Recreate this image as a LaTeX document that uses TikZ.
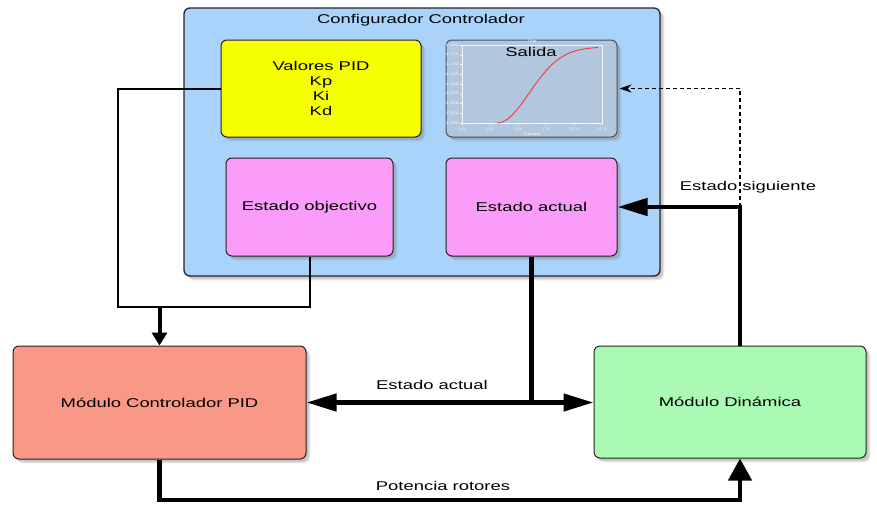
\documentclass[tikz,border=0pt]{standalone}
\usepackage{fontspec}
\setmainfont{Liberation Sans}
\usepackage{graphicx}
\usetikzlibrary{arrows.meta,shadows}

% wide lettering used throughout the figure
\newcommand\wtxt[1]{\scalebox{1.45}[1]{#1}}
\newcommand\tinytxt[1]{\scalebox{1.45}[1]{\fontsize{3.6}{4}\selectfont #1}}

\definecolor{cfgblue}{RGB}{169,211,251}
\definecolor{pidyellow}{RGB}{245,255,0}
\definecolor{statepink}{RGB}{250,156,250}
\definecolor{plotbg}{RGB}{178,198,222}
\definecolor{ctrlsalmon}{RGB}{250,152,136}
\definecolor{dyngreen}{RGB}{170,250,180}
\definecolor{edgegray}{RGB}{35,35,35}

\begin{document}
\begin{tikzpicture}[x=1pt,y=-1pt,
  font=\fontsize{12.7}{15}\selectfont,
  softshadow/.style={
    drop shadow={shadow xshift=4.5pt, shadow yshift=-4.5pt, opacity=.12},
    drop shadow={shadow xshift=3.5pt, shadow yshift=-3.5pt, opacity=.18},
    drop shadow={shadow xshift=2.5pt, shadow yshift=-2.5pt, opacity=.25}},
  box/.style={draw=edgegray, line width=1pt, rounded corners=6pt,
    softshadow, inner sep=0pt, align=center},
  thinline/.style={line width=2pt, line join=miter},
  thickline/.style={line width=4.5pt, line join=miter},
  htip/.style={-{Triangle[length=30pt,width=17pt]}},
  vtip/.style={-{Triangle[length=22pt,width=23pt]}},
  smalltip/.style={-{Triangle[length=13pt,width=15pt]}},
  dashtip/.style={-{Stealth[length=12pt,width=8pt]}},
  ticklbl/.style={text=white!90!plotbg, inner sep=0pt},
]
\useasboundingbox (0,0) rectangle (877,507);

% configuration panel
\node[box, fill=cfgblue, line width=1.3pt, minimum width=476pt, minimum height=268pt]
  (cfg) at (422,142) {};
\node (cfgtitle) at (421,20) {\wtxt{Configurador Controlador}};

\node[box, fill=pidyellow, minimum width=200pt, minimum height=97pt]
  (vpid) at (321,88.5) {\wtxt{Valores PID}\\\wtxt{Kp}\\\wtxt{Ki}\\\wtxt{Kd}};

\node[box, fill=plotbg, draw=edgegray!80, minimum width=171pt, minimum height=97pt]
  (salida) at (531.5,88.5) {};

% small output plot
\begin{scope}[white!85!plotbg]
  \draw[line width=0.5pt] (462,45) rectangle (602,123);
  \foreach \i in {0,...,8} {
    \draw[line width=0.3pt] (462,{45+\i*78/8}) -- ++(-2,0);
  }
  \foreach \i in {0,...,5} {
    \draw[line width=0.3pt] ({462+\i*28},123) -- ++(0,2);
  }
\end{scope}
\foreach \v [count=\i from 0] in {1.200,1.175,1.150,1.125,1.100,1.075,1.050,1.025,1.000} {
  \node[ticklbl, anchor=east] (yt\i) at (459,{45+\i*78/8}) {\tinytxt{\v}};
}
\foreach \v [count=\i from 0] in {0.0,2.5,5.0,7.5,10.0,12.5} {
  \node[ticklbl] (xt\i) at ({462+\i*28},129) {\tinytxt{\v}};
}
\node[ticklbl] (xlbl) at (532,134.5) {\tinytxt{Tiempo}};
\node[ticklbl] (ptitle) at (532,41.5) {\tinytxt{Title}};
\draw[red!70!plotbg, line width=0.9pt, smooth]
  plot[domain=0:1, samples=40] ({497+101*\x}, {123-76*(1-exp(-(\x/0.45)^2))});
\node (salidalbl) at (531,52) {\wtxt{Salida}};

\node[box, fill=statepink, minimum width=167pt, minimum height=98pt]
  (eobj) at (309.5,207) {\wtxt{Estado objectivo}};
\node[box, fill=statepink, minimum width=171pt, minimum height=98pt]
  (eact) at (531.5,207) {\wtxt{Estado actual}};

% modules
\node[box, fill=ctrlsalmon, minimum width=293pt, minimum height=113pt]
  (pid) at (159.5,402.5) {\wtxt{Módulo Controlador PID}};
\node[box, fill=dyngreen, minimum width=272pt, minimum height=112pt]
  (din) at (730,402) {\wtxt{Módulo Dinámica}};

% junction points
\coordinate (jl) at (118,307);
\coordinate (bx) at (740,500);
\coordinate (m) at (eact.south |- pid.east);

% PID gains and target state to the controller
\draw[thinline] (vpid.west) -| (jl) -| (eobj.south);
\draw[line width=4pt, smalltip] (pid.north |- jl) -- (pid.north);

% current state to both modules
\draw[thickline] (eact.south) -- (m);
\draw[thickline, htip] (m) -- (din.west |- m);
\draw[thickline, htip] (m) -- (pid.east);
\node (lblactual) at (432,385) {\wtxt{Estado actual}};

% rotor power
\draw[thickline, vtip] (pid.south) |- (bx) -- (bx |- din.south);
\node (lblpot) at (443,486) {\wtxt{Potencia rotores}};

% next state feedback
\draw[thickline, htip] (bx |- din.north) |- (eact.east);
\draw[line width=1.2pt, dash pattern=on 4pt off 3pt, dashtip, shorten >=2pt]
  (bx |- eact.east) |- (salida.east);
\node (lblsig) at (748,187) {\wtxt{Estado siguiente}};
\end{tikzpicture}
\end{document}
